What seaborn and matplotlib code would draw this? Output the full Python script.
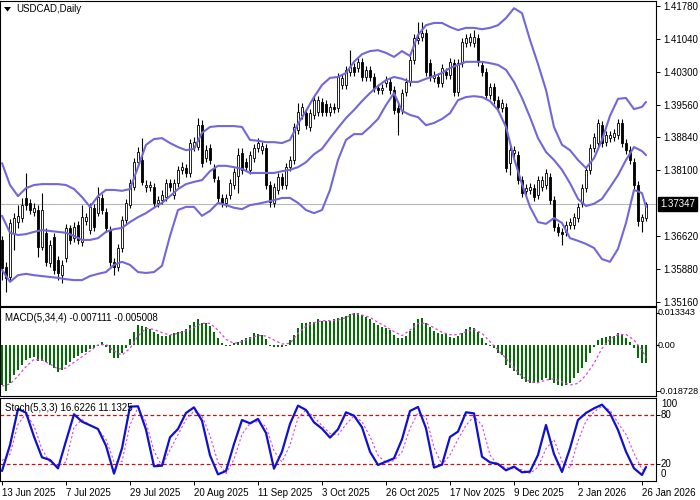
import numpy as np
import pandas as pd
import matplotlib
matplotlib.use("Agg")
import matplotlib.pyplot as plt
import matplotlib.transforms as mtransforms
from matplotlib.patches import Polygon
import seaborn as sns

# ---------------- data ----------------
opens = [1.3654,1.3593,1.3571,1.3670,1.3694,1.3703,1.3748,1.3737,1.3717,1.3721,
         1.3638,1.3670,1.3602,1.3661,1.3609,1.3575,1.3614,1.3681,1.3658,1.3687,
         1.3649,1.3696,1.3676,1.3726,1.3714,1.3748,1.3717,1.3676,1.3605,1.3593,
         1.3636,1.3699,1.3732,1.3772,1.3828,1.3833,1.3772,1.3772,1.3772,1.3737,
         1.3743,1.3750,1.3781,1.3755,1.3781,1.3811,1.3815,1.3804,1.3862,1.3862,
         1.3911,1.3837,1.3860,1.3815,1.3788,1.3748,1.3737,1.3755,1.3777,1.3797,
         1.3849,1.3828,1.3811,1.3837,1.3860,1.3855,1.3860,1.3777,1.3737,1.3766,
         1.3795,1.3777,1.3817,1.3833,1.3900,1.3934,1.3938,1.3907,1.3934,1.3941,
         1.3963,1.3959,1.3941,1.3952,1.3950,1.4001,1.4001,1.4030,1.4041,1.4039,
         1.4053,1.4019,1.4035,1.4019,1.3994,1.3990,1.4006,1.4008,1.3990,1.3950,
         1.3945,1.3985,1.4008,1.4057,1.4102,1.4109,1.4117,1.4050,1.4017,1.4019,
         1.4006,1.4030,1.4023,1.4050,1.3985,1.4050,1.4095,1.4097,1.4095,1.4106,
         1.4046,1.4030,1.3979,1.3997,1.3967,1.3950,1.3952,1.3826,1.3849,1.3844,
         1.3788,1.3764,1.3766,1.3770,1.3755,1.3772,1.3777,1.3795,1.3743,1.3683,
         1.3672,1.3672,1.3687,1.3687,1.3703,1.3737,1.3770,1.3811,1.3860,1.3871,
         1.3911,1.3873,1.3882,1.3885,1.3889,1.3916,1.3871,1.3855,1.3828,1.3777,
         1.3696,1.3703]
closes = [1.3591,1.3569,1.3692,1.3703,1.3708,1.3732,1.3732,1.3721,1.3726,1.3638,
          1.3721,1.3605,1.3643,1.3587,1.3580,1.3598,1.3681,1.3654,1.3683,1.3654,
          1.3705,1.3705,1.3728,1.3683,1.3750,1.3721,1.3681,1.3605,1.3593,1.3636,
          1.3699,1.3737,1.3781,1.3828,1.3851,1.3784,1.3777,1.3777,1.3737,1.3743,
          1.3755,1.3781,1.3772,1.3781,1.3811,1.3817,1.3804,1.3871,1.3873,1.3911,
          1.3826,1.3855,1.3833,1.3793,1.3748,1.3737,1.3748,1.3781,1.3806,1.3844,
          1.3811,1.3817,1.3844,1.3860,1.3871,1.3864,1.3777,1.3739,1.3772,1.3795,
          1.3777,1.3817,1.3833,1.3907,1.3941,1.3952,1.3911,1.3938,1.3967,1.3967,
          1.3941,1.3941,1.3952,1.3947,1.4019,1.4017,1.4035,1.4041,1.4030,1.4053,
          1.4019,1.4035,1.4019,1.3994,1.3990,1.3994,1.4012,1.3990,1.3945,1.3941,
          1.3983,1.4008,1.4057,1.4106,1.4106,1.4117,1.4030,1.4019,1.4023,1.4006,
          1.4039,1.4023,1.4053,1.3985,1.4050,1.4097,1.4106,1.4109,1.4109,1.4053,
          1.4030,1.3979,1.3997,1.3967,1.3952,1.3961,1.3815,1.3855,1.3855,1.3788,
          1.3759,1.3770,1.3772,1.3750,1.3788,1.3788,1.3804,1.3743,1.3683,1.3672,
          1.3667,1.3687,1.3694,1.3705,1.3728,1.3770,1.3811,1.3860,1.3885,1.3916,
          1.3871,1.3889,1.3889,1.3894,1.3916,1.3871,1.3855,1.3833,1.3777,1.3696,
          1.3705,1.37347]
highs = [1.3663,1.3605,1.3701,1.3714,1.3732,1.3748,1.3804,1.3746,1.3737,1.3732,
         1.3759,1.3681,1.3654,1.3670,1.3618,1.3609,1.3690,1.3687,1.3694,1.3696,
         1.3732,1.3714,1.3737,1.3734,1.3772,1.3757,1.3726,1.3685,1.3614,1.3645,
         1.3708,1.3746,1.3790,1.3837,1.3862,1.3882,1.3788,1.3786,1.3781,1.3752,
         1.3766,1.3790,1.3790,1.3790,1.3820,1.3828,1.3824,1.3880,1.3885,1.3927,
         1.3923,1.3867,1.3869,1.3824,1.3797,1.3757,1.3757,1.3790,1.3815,1.3860,
         1.3860,1.3837,1.3853,1.3869,1.3882,1.3873,1.3869,1.3786,1.3781,1.3804,
         1.3804,1.3826,1.3842,1.3916,1.3961,1.3961,1.3947,1.3947,1.3976,1.3976,
         1.3972,1.3967,1.3961,1.3961,1.4028,1.4026,1.4044,1.4079,1.4050,1.4062,
         1.4062,1.4044,1.4044,1.4028,1.4003,1.4003,1.4021,1.4017,1.3999,1.3959,
         1.3992,1.4017,1.4066,1.4115,1.4142,1.4142,1.4126,1.4059,1.4032,1.4028,
         1.4048,1.4039,1.4062,1.4059,1.4059,1.4106,1.4115,1.4117,1.4124,1.4115,
         1.4055,1.4039,1.4006,1.4006,1.3976,1.3970,1.3961,1.3871,1.3864,1.3853,
         1.3797,1.3779,1.3781,1.3779,1.3797,1.3797,1.3813,1.3804,1.3752,1.3692,
         1.3681,1.3696,1.3703,1.3714,1.3737,1.3779,1.3820,1.3869,1.3894,1.3925,
         1.3920,1.3898,1.3898,1.3902,1.3925,1.3925,1.3880,1.3864,1.3837,1.3786,
         1.3712,1.3739]
lows = [1.3564,1.3537,1.3562,1.3631,1.3681,1.3694,1.3721,1.3712,1.3708,1.3616,
        1.3631,1.3596,1.3593,1.3578,1.3564,1.3557,1.3605,1.3645,1.3649,1.3645,
        1.3640,1.3687,1.3667,1.3674,1.3708,1.3712,1.3672,1.3596,1.3575,1.3584,
        1.3627,1.3690,1.3726,1.3766,1.3822,1.3777,1.3761,1.3764,1.3728,1.3728,
        1.3735,1.3741,1.3764,1.3746,1.3772,1.3802,1.3795,1.3795,1.3853,1.3855,
        1.3817,1.3828,1.3824,1.3784,1.3739,1.3728,1.3728,1.3746,1.3768,1.3759,
        1.3802,1.3808,1.3802,1.3828,1.3851,1.3846,1.3768,1.3728,1.3728,1.3757,
        1.3768,1.3768,1.3808,1.3824,1.3891,1.3925,1.3902,1.3898,1.3925,1.3932,
        1.3932,1.3932,1.3932,1.3938,1.3941,1.3992,1.3992,1.4021,1.4021,1.4030,
        1.4010,1.4010,1.4010,1.3985,1.3981,1.3981,1.3997,1.3981,1.3936,1.3889,
        1.3936,1.3976,1.3999,1.4048,1.4093,1.4100,1.4021,1.4010,1.4008,1.3997,
        1.3997,1.4015,1.4015,1.3976,1.3976,1.4041,1.4086,1.4088,1.4086,1.4044,
        1.4021,1.3970,1.3970,1.3959,1.3943,1.3941,1.3806,1.3799,1.3840,1.3779,
        1.3750,1.3755,1.3757,1.3741,1.3746,1.3764,1.3768,1.3735,1.3674,1.3663,
        1.3643,1.3663,1.3678,1.3678,1.3694,1.3728,1.3761,1.3802,1.3851,1.3862,
        1.3862,1.3864,1.3873,1.3876,1.3880,1.3862,1.3846,1.3824,1.3768,1.3685,
        1.3672,1.3696]

band_bars = list(range(0, 161, 2)) + [161]
bb_upper = [1.3826,1.3777,1.3752,1.3770,1.3777,1.3779,1.3779,1.3779,1.3777,1.3768,
            1.3750,1.3728,1.3752,1.3766,1.3766,1.3764,1.3768,1.3817,1.3867,1.3880,
            1.3882,1.3871,1.3862,1.3855,1.3858,1.3894,1.3907,1.3909,1.3909,1.3909,
            1.3907,1.3878,1.3876,1.3873,1.3873,1.3871,1.3878,1.3914,1.3943,1.3974,
            1.4001,1.4017,1.4019,1.4028,1.4053,1.4070,1.4077,1.4079,1.4073,1.4064,
            1.4077,1.4066,1.4113,1.4135,1.4140,1.4140,1.4131,1.4124,1.4129,1.4129,
            1.4126,1.4129,1.4135,1.4151,1.4173,1.4162,1.4102,1.4048,1.3990,1.3907,
            1.3867,1.3855,1.3833,1.3815,1.3837,1.3878,1.3932,1.3970,1.3972,1.3947,
            1.3952,1.3963]
bb_middle = [1.3708,1.3670,1.3665,1.3667,1.3672,1.3676,1.3674,1.3672,1.3670,1.3663,
             1.3654,1.3654,1.3658,1.3672,1.3678,1.3681,1.3694,1.3705,1.3714,1.3726,
             1.3737,1.3752,1.3768,1.3779,1.3784,1.3788,1.3808,1.3820,1.3820,1.3817,
             1.3813,1.3804,1.3804,1.3804,1.3804,1.3808,1.3811,1.3817,1.3828,1.3846,
             1.3858,1.3882,1.3905,1.3927,1.3945,1.3965,1.3983,1.3999,1.4012,1.4019,
             1.4015,1.4008,1.4008,1.4015,1.4021,1.4028,1.4039,1.4046,1.4053,1.4053,
             1.4053,1.4050,1.4046,1.4035,1.4008,1.3972,1.3929,1.3882,1.3851,1.3833,
             1.3811,1.3781,1.3746,1.3730,1.3735,1.3746,1.3772,1.3799,1.3833,1.3862,
             1.3853,1.3844]
bb_lower = [1.3587,1.3560,1.3575,1.3578,1.3575,1.3573,1.3571,1.3569,1.3566,1.3564,
            1.3564,1.3573,1.3578,1.3582,1.3598,1.3605,1.3598,1.3582,1.3580,1.3582,
            1.3596,1.3663,1.3721,1.3728,1.3728,1.3708,1.3719,1.3737,1.3732,1.3726,
            1.3723,1.3732,1.3735,1.3739,1.3743,1.3748,1.3748,1.3737,1.3721,1.3714,
            1.3721,1.3766,1.3833,1.3878,1.3891,1.3891,1.3907,1.3925,1.3956,1.3983,
            1.3943,1.3934,1.3929,1.3911,1.3916,1.3925,1.3938,1.3967,1.3974,1.3976,
            1.3974,1.3965,1.3945,1.3907,1.3837,1.3779,1.3728,1.3694,1.3690,1.3703,
            1.3692,1.3658,1.3652,1.3645,1.3636,1.3611,1.3605,1.3634,1.3692,1.3766,
            1.3759,1.3728]

macd_main = [-0.01625,-0.018728,-0.01557,-0.01217,-0.01013,-0.00809,-0.00605,-0.00537,-0.00469,-0.00632,
             -0.00632,-0.00673,-0.00809,-0.00945,-0.01081,-0.01013,-0.00809,-0.00673,-0.00537,-0.00442,
             -0.00333,-0.00265,-0.00170,-0.00129,-0.0003,0.00143,-0.00061,-0.00333,-0.00510,-0.00510,
             -0.00333,-0.00129,0.00238,0.00551,0.00823,0.00782,0.00728,0.00646,0.00551,0.00442,
             0.00388,0.00388,0.00415,0.00483,0.00551,0.00592,0.00646,0.00823,0.00959,0.01054,
             0.00891,0.00891,0.00782,0.00551,0.00279,0.00102,-0.0003,-0.0005,0.00075,0.00143,
             0.00211,0.00279,0.00347,0.00483,0.00442,0.00415,0.00238,-0.0005,-0.0008,-0.0006,
             -0.0008,-0.0002,0.00211,0.00415,0.00687,0.00891,0.00891,0.00932,0.00959,0.01054,
             0.01000,0.00986,0.01000,0.01054,0.01095,0.01163,0.01190,0.01285,0.013343,0.01299,
             0.01231,0.01163,0.01054,0.00918,0.00823,0.00728,0.00687,0.00619,0.00415,0.00279,
             0.00306,0.00374,0.00592,0.00891,0.01054,0.01095,0.00891,0.00728,0.00592,0.00510,
             0.00456,0.00442,0.00347,0.00306,0.00374,0.00510,0.00646,0.00728,0.00714,0.00551,
             0.00279,0.00102,-0.0003,-0.00129,-0.00333,-0.00401,-0.00809,-0.00945,-0.01054,-0.01217,
             -0.01394,-0.01489,-0.01557,-0.01557,-0.01489,-0.01421,-0.01353,-0.01421,-0.01530,-0.01625,
             -0.01666,-0.01625,-0.01557,-0.01353,-0.01149,-0.00945,-0.00673,-0.00333,-0.00061,0.00211,
             0.00279,0.00347,0.00374,0.00388,0.00483,0.00415,0.00279,0.00143,-0.00129,-0.00537,
             -0.00741,-0.007111]
macd_signal = [-0.01666,-0.01584,-0.01258,-0.00877,-0.00578,-0.00605,-0.00768,-0.00972,-0.00932,-0.00700,
               -0.00469,-0.00238,0.00007,0.00034,-0.00238,-0.00401,-0.00129,0.00374,0.00687,0.00646,
               0.00510,0.00415,0.00483,0.00578,0.00728,0.00891,0.00891,0.00619,0.00238,0.00075,
               0.00143,0.00279,0.00401,0.00374,0.00211,0.00048,0.00075,0.00483,0.00782,0.00918,
               0.01000,0.01000,0.01027,0.01122,0.01299,0.01231,0.01136,0.00932,0.00755,0.00551,
               0.00388,0.00619,0.00891,0.00891,0.00714,0.00524,0.00428,0.00428,0.00551,0.00646,
               0.00483,0.00143,-0.00197,-0.00537,-0.00945,-0.01258,-0.01489,-0.01530,-0.01421,-0.01367,
               -0.01489,-0.01625,-0.01557,-0.01217,-0.00741,-0.00129,0.00252,0.00428,0.00442,0.00211,
               -0.00197,-0.005008]

stoch_k = [11.8,43.4,87.2,82.8,53.6,28.4,25.2,15.0,48.3,80.8,71.8,67.4,62.9,42.6,8.6,39.4,
           90.1,90.5,62.1,17.5,18.3,52.8,62.9,82.4,89.2,73.0,30.9,7.7,11.8,44.6,73.8,69.8,
           75.1,58.0,14.6,35.3,69.0,91.3,86.0,71.0,63.3,52.4,62.5,83.2,79.1,65.0,35.3,19.1,
           23.2,27.2,50.3,84.8,89.7,63.7,15.9,19.5,53.2,59.7,83.2,81.9,29.2,22.3,20.3,12.6,
           17.1,10.2,11.0,31.3,67.8,32.5,10.6,39.4,73.8,82.4,88.0,92.5,81.9,61.7,35.3,15.0,
           6.9,16.6226]
stoch_d = [24.4,32.1,68.6,81.5,66.9,38.2,22.3,17.9,22.7,64.9,74.3,67.8,62.5,50.3,23.2,23.2,
           67.8,88.8,71.4,36.1,17.5,37.3,56.0,74.3,84.8,79.1,54.8,22.3,8.6,26.0,56.4,69.8,
           71.8,66.1,36.1,22.7,43.4,76.3,86.0,77.5,66.9,57.6,55.6,68.6,78.7,71.8,53.6,30.9,
           22.0,24.4,34.9,63.7,82.8,77.1,40.6,19.1,31.3,50.3,67.4,78.3,67.4,31.3,18.7,15.9,
           14.2,13.4,8.9,16.3,39.0,49.9,23.2,15.0,48.3,72.6,83.6,90.5,86.0,70.2,56.4,33.3,
           13.8,11.1325]

date_bars = [0, 16, 32, 48, 64, 80, 96, 112, 128, 144, 160]
date_labels = ["13 Jun 2025", "7 Jul 2025", "29 Jul 2025", "20 Aug 2025", "11 Sep 2025",
               "3 Oct 2025", "26 Oct 2025", "17 Nov 2025", "9 Dec 2025", "2 Jan 2026", "26 Jan 2026"]
price_ticks = [1.41780, 1.41040, 1.40300, 1.39560, 1.38840, 1.38100, 1.36620, 1.35880, 1.35160]
last_price = 1.37347
macd_ticks = [0.013343, 0.0, -0.018728]
macd_tick_labels = ["0.013343", "0.00", "-0.018728"]
stoch_levels = [80, 20]
stoch_tick_pos = [93.3, 80, 20, 8.2]
stoch_tick_labels = ["100", "80", "20", "0"]

# ---------------- style ----------------
sns.set_theme(style="white")
plt.rcParams['font.family'] = ['Liberation Sans', 'DejaVu Sans']
plt.rcParams['font.size'] = 7

W, H = 700, 500
fig = plt.figure(figsize=(7, 5), dpi=100)
fig.patch.set_facecolor('white')

def px_axes(x0, y0, x1, y1):
    return fig.add_axes([x0 / W, 1 - y1 / H, (x1 - x0) / W, (y1 - y0) / H])

ax1 = px_axes(0, 1, 656, 305.5)
ax2 = px_axes(0, 307, 656, 396)
ax3 = px_axes(0, 398, 656, 481)

n = len(closes)
bars = np.arange(n)
XL = (-0.5, 163.5)
BAND_C = '#7366dc'

for ax in (ax1, ax2, ax3):
    ax.set_facecolor('white')
    for s in ax.spines.values():
        s.set_visible(True)
        s.set_color('black')
        s.set_linewidth(0.8)
    ax.grid(False)

# ---- main panel ----
df_c = pd.DataFrame({'bar': bars, 'open': opens, 'close': closes, 'high': highs, 'low': lows})
ax1.vlines(df_c['bar'], df_c['low'], df_c['high'], color='black', linewidth=0.8, zorder=2)
bull = df_c['close'] >= df_c['open']
body_lo = np.minimum(df_c['open'], df_c['close'])
body_h = np.abs(df_c['close'] - df_c['open'])
ax1.bar(df_c['bar'][bull], body_h[bull], bottom=body_lo[bull], width=0.6,
        color='white', edgecolor='black', linewidth=0.6, zorder=3)
ax1.bar(df_c['bar'][~bull], body_h[~bull], bottom=body_lo[~bull], width=0.6,
        color='black', edgecolor='black', linewidth=0.6, zorder=3)

df_bb = pd.DataFrame({'bar': band_bars, 'upper': bb_upper, 'middle': bb_middle, 'lower': bb_lower})
for col in ('upper', 'middle', 'lower'):
    sns.lineplot(data=df_bb, x='bar', y=col, ax=ax1, color=BAND_C, linewidth=1.5,
                 legend=False, zorder=4)
ax1.axhline(last_price, color='#b8b8b8', linewidth=0.8, zorder=1)
tr1 = mtransforms.blended_transform_factory(ax1.transAxes, ax1.transData)
ax1.text(1.006, last_price, f"{last_price:.5f}", transform=tr1, color='white', fontsize=7,
         va='center', ha='left',
         bbox=dict(boxstyle='square,pad=0.2', fc='black', ec='black'), zorder=10, clip_on=False)
fig.text(16 / W, 1 - 8.5 / H, "USDCAD,Daily", fontsize=7, va='center', ha='left', color='black')
fig.patches.append(Polygon([(4 / W, 1 - 7 / H), (11 / W, 1 - 7 / H), (7.5 / W, 1 - 11.5 / H)],
                           closed=True, transform=fig.transFigure, fc='black', ec='black', lw=0))

# ---- MACD panel ----
ax2.bar(bars, macd_main, width=0.74, color='#006e00', linewidth=0, zorder=2)
df_sig = pd.DataFrame({'bar': band_bars, 'signal': macd_signal})
sns.lineplot(data=df_sig, x='bar', y='signal', ax=ax2, color='#e040e0', linewidth=0.9,
             linestyle=(0, (2, 2)), legend=False, zorder=3)
ax2.text(5 / 656, 0.88, "MACD(5,34,4) -0.007111 -0.005008", transform=ax2.transAxes,
         fontsize=7, va='center', ha='left', color='black')

# ---- Stochastic panel ----
for lv in stoch_levels:
    ax3.axhline(lv, color='#d01010', linewidth=0.9, linestyle=(0, (3, 2)), zorder=1)
df_st = pd.DataFrame({'bar': band_bars, 'k': stoch_k, 'd': stoch_d})
sns.lineplot(data=df_st, x='bar', y='d', ax=ax3, color='#e040e0', linewidth=0.8,
             linestyle=(0, (2, 2)), legend=False, zorder=2)
sns.lineplot(data=df_st, x='bar', y='k', ax=ax3, color='#1010d0', linewidth=1.6,
             legend=False, zorder=3)
ax3.text(5 / 656, 0.885, "Stoch(5,3,3) 16.6226 11.1325", transform=ax3.transAxes,
         fontsize=7, va='center', ha='left', color='black')

# ---- axes, ticks ----
ax1.set_ylim(1.35071, 1.41892)
ax2.set_ylim(-0.02073, 0.01559)
ax3.set_ylim(-0.4, 100.6)
for ax in (ax1, ax2, ax3):
    ax.set_xlim(*XL)
    ax.set_xlabel('')
    ax.set_ylabel('')
    ax.yaxis.set_ticks_position('right')
    ax.tick_params(axis='y', which='both', direction='out', length=3, width=0.7,
                   labelsize=7, pad=2, right=True, left=False, labelright=True,
                   labelleft=False, colors='black')
    ax.tick_params(axis='x', bottom=False, labelbottom=False)

ax1.set_yticks(price_ticks)
ax1.set_yticklabels([f"{v:.5f}" for v in price_ticks])

# MACD scale labels drawn as text so they fit in the right margin
ax2.set_yticks(macd_ticks)
ax2.tick_params(axis='y', labelright=False, length=2)
tr2 = mtransforms.blended_transform_factory(ax2.transAxes, ax2.transData)
for v, s in zip(macd_ticks, macd_tick_labels):
    ax2.text(1.0 + 1.5 / 656, v, s, transform=tr2, fontsize=6.6, va='center', ha='left',
             color='black', clip_on=False)

# Stochastic scale labels
ax3.set_yticks(stoch_levels)
ax3.tick_params(axis='y', labelright=False)
tr3 = mtransforms.blended_transform_factory(ax3.transAxes, ax3.transData)
for v, s in zip(stoch_tick_pos, stoch_tick_labels):
    ax3.text(1.0 + 5 / 656, v, s, transform=tr3, fontsize=7, va='center', ha='left',
             color='black', clip_on=False)

ax3.set_xticks(date_bars)
ax3.set_xticklabels(date_labels)
ax3.tick_params(axis='x', bottom=True, labelbottom=True, direction='out', length=3,
                width=0.7, labelsize=7, pad=2, colors='black')
for lbl in ax3.get_xticklabels():
    lbl.set_horizontalalignment('left')

fig.savefig("out.png", dpi=100, facecolor='white')
